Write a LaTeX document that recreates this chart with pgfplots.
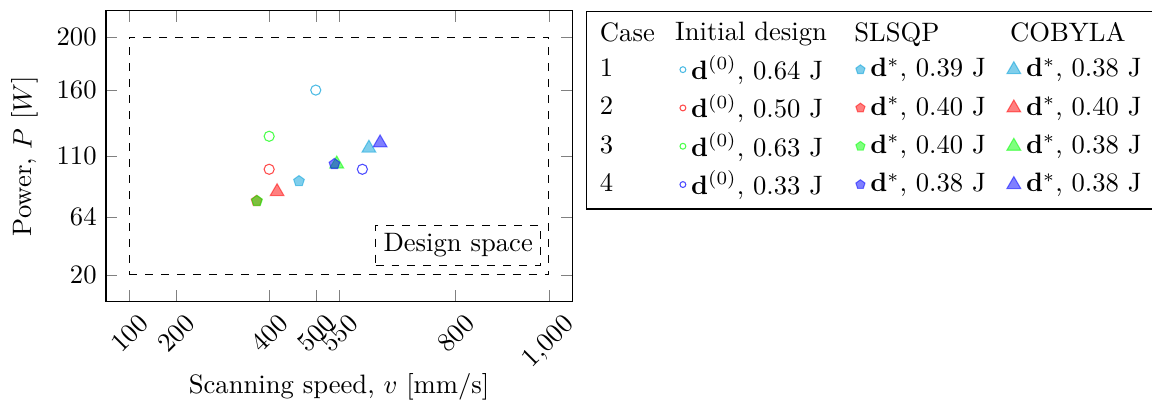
\documentclass[border=0pt]{standalone}
\usepackage{graphicx}
\usepackage{pgfplots}
\pgfplotsset{compat=1.18}
\definecolor{c1}{rgb}{0.0,0.62,0.85}
\definecolor{c2}{rgb}{1,0,0}
\definecolor{c3}{rgb}{0,1,0}
\definecolor{c4}{rgb}{0,0,1}
\begin{document}
\begin{tikzpicture}
\begin{axis}[
 name=ax,
 scale only axis, width=175pt, height=109pt,
 xmin=50, xmax=1050, ymin=0, ymax=220,
 xtick={100,200,400,500,550,800,1000},
 ytick={20,64,110,160,200},
 xticklabel={\rotatebox{45}{$\pgfmathprintnumber{\tick}$}},
 xticklabel style={anchor=north, yshift=-1pt},
 xlabel={Scanning speed, $v$ [mm/s]},
 xlabel style={yshift=6.4pt},
 ylabel={Power, $P$ [$W$]},
 legend columns=4,
 legend cell align=left,
 legend style={at={(1.03,1)}, anchor=north west, draw=black,
   /tikz/column 4/.style={column sep=2pt},
   /tikz/column 6/.style={column sep=0pt}},
]
\addplot[forget plot, dashed, black] coordinates {(100,20)(1000,20)(1000,200)(100,200)(100,20)};
% initial designs
\addplot[forget plot, only marks, mark=o, mark size=1.9pt, c1, draw opacity=0.7] coordinates {(500,160)};
\addplot[forget plot, only marks, mark=o, mark size=1.9pt, c2, draw opacity=0.7] coordinates {(400,100)};
\addplot[forget plot, only marks, mark=o, mark size=1.9pt, c3, draw opacity=0.7] coordinates {(400,125)};
\addplot[forget plot, only marks, mark=o, mark size=1.9pt, c4, draw opacity=0.7] coordinates {(600,100)};
% COBYLA
\addplot[forget plot, only marks, mark=triangle*, mark size=3pt, c1, opacity=0.5] coordinates {(614,116)};
\addplot[forget plot, only marks, mark=triangle*, mark size=3pt, c2, opacity=0.5] coordinates {(417,83)};
\addplot[forget plot, only marks, mark=triangle*, mark size=3pt, c3, opacity=0.5] coordinates {(545,104)};
\addplot[forget plot, only marks, mark=triangle*, mark size=3pt, c4, opacity=0.5] coordinates {(638,120)};
% SLSQP
\addplot[forget plot, only marks, mark=pentagon*, mark size=2.1pt, c1, opacity=0.5] coordinates {(464,91)};
\addplot[forget plot, only marks, mark=pentagon*, mark size=2.1pt, c2, opacity=0.5] coordinates {(373,76)};
\addplot[forget plot, only marks, mark=pentagon*, mark size=2.1pt, c3, opacity=0.5] coordinates {(374,76)};
\addplot[forget plot, only marks, mark=pentagon*, mark size=2.1pt, c4, opacity=0.5] coordinates {(540,104)};
\node[draw, dashed, anchor=south east, inner sep=3pt] at (axis cs:984,27) {Design space};
% legend
\addlegendimage{empty legend}\addlegendentry{Case}
\addlegendimage{empty legend}\addlegendentry{\hspace*{-6pt}Initial design}
\addlegendimage{empty legend}\addlegendentry{\hspace*{-6pt}SLSQP}
\addlegendimage{empty legend}\addlegendentry{\hspace*{-6pt}COBYLA}
\addlegendimage{empty legend}\addlegendentry{1}
\addlegendimage{only marks, mark=o, mark size=1.1pt, c1, draw opacity=0.7}\addlegendentry{$\mathbf{d}^{(0)}$, 0.64 J}
\addlegendimage{only marks, mark=pentagon*, mark size=1.8pt, c1, opacity=0.5}\addlegendentry{$\mathbf{d}^{*}$, 0.39 J}
\addlegendimage{only marks, mark=triangle*, mark size=3pt, c1, opacity=0.5}\addlegendentry{$\mathbf{d}^{*}$, 0.38 J}
\addlegendimage{empty legend}\addlegendentry{2}
\addlegendimage{only marks, mark=o, mark size=1.1pt, c2, draw opacity=0.7}\addlegendentry{$\mathbf{d}^{(0)}$, 0.50 J}
\addlegendimage{only marks, mark=pentagon*, mark size=1.8pt, c2, opacity=0.5}\addlegendentry{$\mathbf{d}^{*}$, 0.40 J}
\addlegendimage{only marks, mark=triangle*, mark size=3pt, c2, opacity=0.5}\addlegendentry{$\mathbf{d}^{*}$, 0.40 J}
\addlegendimage{empty legend}\addlegendentry{3}
\addlegendimage{only marks, mark=o, mark size=1.1pt, c3, draw opacity=0.7}\addlegendentry{$\mathbf{d}^{(0)}$, 0.63 J}
\addlegendimage{only marks, mark=pentagon*, mark size=1.8pt, c3, opacity=0.5}\addlegendentry{$\mathbf{d}^{*}$, 0.40 J}
\addlegendimage{only marks, mark=triangle*, mark size=3pt, c3, opacity=0.5}\addlegendentry{$\mathbf{d}^{*}$, 0.38 J}
\addlegendimage{empty legend}\addlegendentry{4}
\addlegendimage{only marks, mark=o, mark size=1.1pt, c4, draw opacity=0.7}\addlegendentry{$\mathbf{d}^{(0)}$, 0.33 J}
\addlegendimage{only marks, mark=pentagon*, mark size=1.8pt, c4, opacity=0.5}\addlegendentry{$\mathbf{d}^{*}$, 0.38 J}
\addlegendimage{only marks, mark=triangle*, mark size=3pt, c4, opacity=0.5}\addlegendentry{$\mathbf{d}^{*}$, 0.38 J}
\end{axis}
\pgfresetboundingbox
\path[use as bounding box] ([shift={(-39.8pt,-41.7pt)}]ax.south west) rectangle ([shift={(217.7pt,4.1pt)}]ax.north east);
\end{tikzpicture}
\end{document}
